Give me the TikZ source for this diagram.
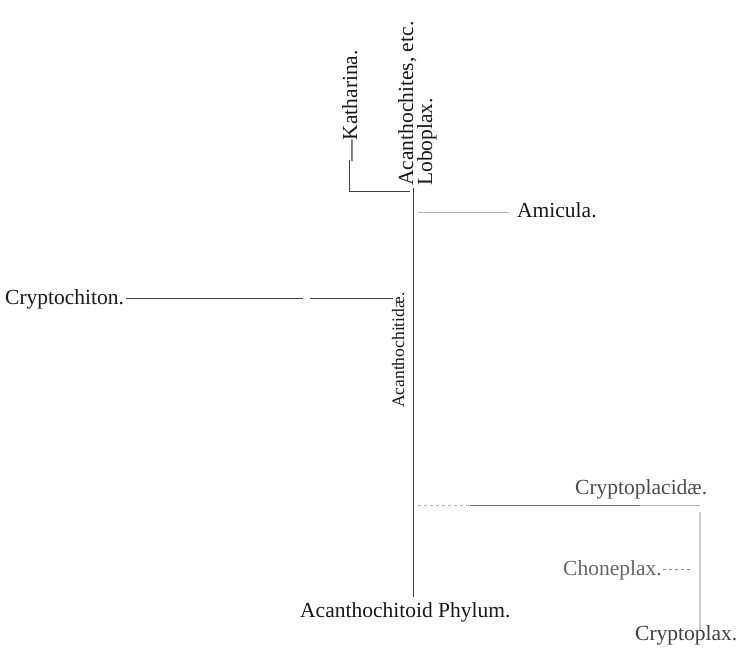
\documentclass[tikz,border=0pt]{standalone}
\usepackage{fontspec}
\setmainfont{Liberation Serif}
\usetikzlibrary{positioning}

\begin{document}
\begin{tikzpicture}[x=1pt, y=-1pt, font=\fontsize{21.5}{24}\selectfont,
  taxon/.style={inner sep=0pt, text=black!90},
  vtaxon/.style={taxon, rotate=90, anchor=base west},
  stem/.style={black!75, line width=1pt},
  faint/.style={black!30, line width=.8pt}]

\useasboundingbox (0,0) rectangle (742,658);

% names
\node[vtaxon] (kath) at (357, 162) {---Katharina.};
\node[vtaxon] (acanth) at (413, 186) {Acanthochites, etc.};
\node[vtaxon] (lobo) at (432, 186) {Loboplax.};
\node[vtaxon, font=\fontsize{17.5}{20}\selectfont] (acfam) at (404, 408) {Acanthochitidæ.};
\node[taxon, anchor=base west] (amic) at (517, 218) {Amicula.};
\node[taxon, anchor=base west] (crypch) at (5, 304) {Cryptochiton.};
\node[taxon, anchor=base west, text=black!70] (cplacid) at (575, 494) {Cryptoplacidæ.};
\node[taxon, anchor=base west, text=black!60] (chone) at (563, 575) {Choneplax.};
\node[taxon, anchor=base west, text=black!75] (cplax) at (635, 640) {Cryptoplax.};
\node[taxon, anchor=base west] (phylum) at (300, 617) {Acanthochitoid Phylum.};

% junctions
\coordinate (top) at (413, 188);
\coordinate (base) at (413, 597);
\coordinate (kj) at (349, 192);
\coordinate (kt) at (349, 160);
\coordinate (kr) at (410, 192);
\coordinate (aj) at (418, 212);
\coordinate (g1) at (303, 298);
\coordinate (g2) at (310, 298);
\coordinate (cj) at (393, 298);
\coordinate (pj) at (418, 505);
\coordinate (pm) at (470, 505);
\coordinate (pr) at (640, 505);
\coordinate (pc) at (700, 505);
\coordinate (pt) at (700, 512);
\coordinate (pb) at (700, 630);
\coordinate (cd1) at (663, 569);
\coordinate (cd2) at (693, 569);

\draw[stem] (top) -- (base);
\draw[stem] (kt) -- (kj) -- (kr);
\draw[faint, shorten >=8pt] (aj) -- (aj -| amic.west);
\draw[stem] (crypch.east |- g1) ++(2,0) -- (g1);
\draw[stem] (g2) -- (cj);

\draw[faint, dashed] (pj) -- (pm);
\draw[black!55, line width=1pt] (pm) -- (pr);
\draw[faint] (pr) -- (pc);
\draw[black!20, line width=1.2pt] (pt) -- (pb);
\draw[black!45, dashed, line width=.8pt] (cd1) -- (cd2);

\end{tikzpicture}
\end{document}
